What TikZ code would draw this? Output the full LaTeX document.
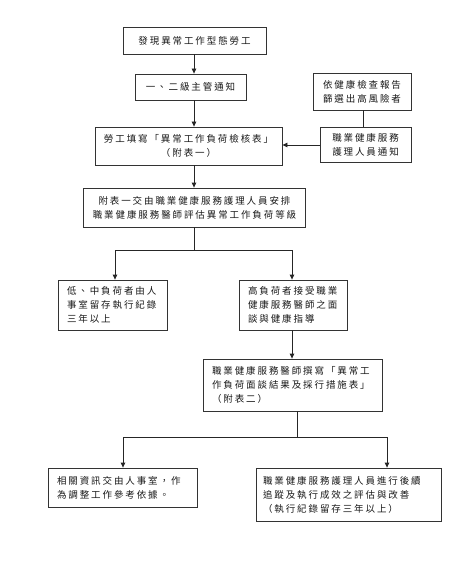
\documentclass[tikz,border=0pt]{standalone}
\usepackage{fontspec}
\setmainfont{Noto Sans CJK TC}[LetterSpace=20]
\usetikzlibrary{arrows.meta}
\tikzset{
  box/.style={draw=black!80, line width=0.8pt, inner xsep=9pt, inner ysep=0pt,
    font=\fontsize{9.5}{14}\selectfont, text=black!90},
  conn/.style={draw=black!85, line width=0.8pt},
  arr/.style={conn, -{Triangle[length=5pt,width=4.5pt]}}
}
\begin{document}
\begin{tikzpicture}[x=1pt,y=-1pt]
\useasboundingbox (0,0) rectangle (474,564);
\fill[white] (0,0) rectangle (474,564);
\node[box, minimum width=143pt, minimum height=27pt, align=center] (b1) at (194.5,40.5) {發現異常工作型態勞工};
\node[box, minimum width=111pt, minimum height=26pt, align=center] (b2) at (190.5,87) {一、二級主管通知};
\node[box, minimum width=98pt, minimum height=37pt, align=center] (b3) at (362,91.5) {依健康檢查報告\\篩選出高風險者};
\node[box, minimum width=91pt, minimum height=35pt, align=center] (b5) at (365.5,144.5) {職業健康服務\\護理人員通知};
\node[box, minimum width=179pt, minimum height=38pt, align=center] (b4) at (188.5,146) {勞工填寫「異常工作負荷檢核表」\\（附表一）};
\node[box, minimum width=221pt, minimum height=39pt, align=center] (b6) at (194.5,207.5) {附表一交由職業健康服務護理人員安排\\職業健康服務醫師評估異常工作負荷等級};
\node[box, minimum width=109pt, minimum height=50pt, text width=91pt, align=left] (b7) at (112.5,305) {低、中負荷者由人\\事室留存執行紀錄\\三年以上};
\node[box, minimum width=108pt, minimum height=50pt, text width=90pt, align=left] (b8) at (293,305) {高負荷者接受職業\\健康服務醫師之面\\談與健康指導};
\node[box, minimum width=179pt, minimum height=52pt, text width=161pt, align=left] (b9) at (292.5,385) {職業健康服務醫師撰寫「異常工\\作負荷面談結果及採行措施表」\\（附表二）};
\node[box, minimum width=149pt, minimum height=39pt, text width=131pt, align=left] (b10) at (122.5,487.5) {相關資訊交由人事室，作\\為調整工作參考依據。};
\node[box, inner xsep=7pt, minimum width=185pt, minimum height=53pt, text width=171pt, align=left] (b11) at (348.5,494.5) {職業健康服務護理人員進行後續\\追蹤及執行成效之評估與改善\\（執行紀錄留存三年以上）};
% connectors
\coordinate (s1) at ([xshift=-0.5pt]b1.south);
\draw[arr] (s1) -- (s1 |- b2.north);
\draw[arr] (s1 |- b2.south) -- (s1 |- b4.north);
\draw[conn] ([xshift=1pt]b3.south) -- ([xshift=1pt]b3.south |- b5.north);
\draw[arr] ([yshift=-0.5pt]b5.west) -- ([yshift=-0.5pt]b5.west -| b4.east);
\draw[arr] (s1 |- b4.south) -- (s1 |- b6.north);
\coordinate (j1) at (194,250);
\coordinate (l1) at (115,250);
\coordinate (r1) at (292,250);
\draw[conn] (j1 |- b6.south) -- (j1);
\draw[conn] (l1) -- (r1);
\draw[arr] (l1) -- (l1 |- b7.north);
\draw[arr] (r1) -- (r1 |- b8.north);
\draw[arr] (r1 |- b8.south) -- (r1 |- b9.north);
\coordinate (j2) at (297,437);
\coordinate (l2) at (123,437);
\coordinate (r2) at (387,437);
\draw[conn] (j2 |- b9.south) -- (j2);
\draw[conn] (l2) -- (r2);
\draw[arr] (l2) -- (l2 |- b10.north);
\draw[arr] (r2) -- (r2 |- b11.north);
\end{tikzpicture}
\end{document}
